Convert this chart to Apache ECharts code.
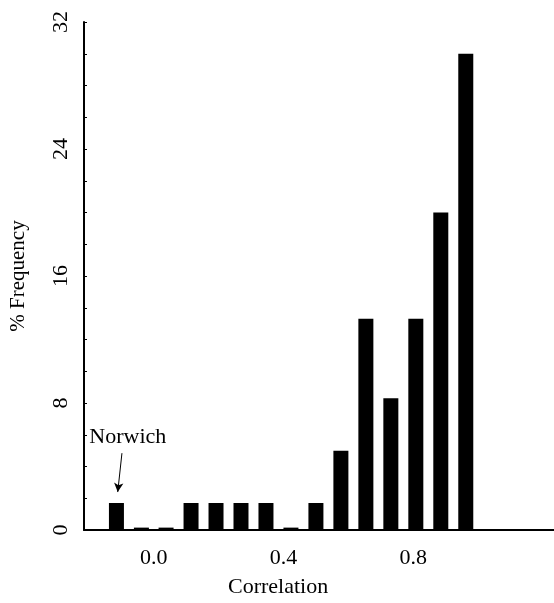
<!DOCTYPE html>
<html>
<head>
<meta charset="utf-8">
<script src="https://cdn.jsdelivr.net/npm/echarts@6/dist/echarts.min.js"></script>
<style>
  html, body { margin: 0; padding: 0; background: #fff; }
  #chart { width: 554px; height: 603px; }
</style>
</head>
<body>
<div id="chart"></div>
<script>
// bin centres (correlation) and % frequency per bin
const binCentres = [-0.115, -0.038, 0.038, 0.115, 0.192, 0.269, 0.346, 0.423, 0.5, 0.577, 0.654, 0.731, 0.808, 0.885, 0.962];
const frequency = [1.7, 0.15, 0.15, 1.7, 1.7, 1.7, 1.7, 0.15, 1.7, 5.0, 13.3, 8.3, 13.3, 20.0, 30.0];
const xTickValues = [0, 0.4, 0.8];
const yLabelValues = [0, 8, 16, 24, 32];
// Norwich note: text spot and arrow from/to, in data units
const noteText = [-0.08, 5.85];
const arrowFrom = [-0.098, 4.84];
const arrowTo = [-0.111, 2.39];

const font = "'Liberation Serif', 'DejaVu Serif', serif";
const chart = echarts.init(document.getElementById("chart"));

chart.setOption({
  animation: false,
  grid: { left: 83, right: 0, top: 22, bottom: 73 },
  xAxis: {
    type: "value",
    min: -0.215,
    max: 1.234,
    axisLine: { onZero: false, lineStyle: { color: "#000", width: 2 } },
    axisTick: { show: false },
    splitLine: { show: false },
    axisLabel: {
      customValues: xTickValues,
      formatter: v => v.toFixed(1),
      color: "#000",
      fontFamily: font,
      fontSize: 22,
      margin: 17
    }
  },
  yAxis: {
    type: "value",
    min: 0,
    max: 32,
    interval: 2,
    name: "% Frequency",
    nameLocation: "middle",
    nameRotate: 90,
    nameGap: 55,
    nameTextStyle: { color: "#000", fontFamily: font, fontSize: 21 },
    axisLine: { show: true, onZero: false, lineStyle: { color: "#000", width: 2 } },
    axisTick: { show: true, inside: true, length: 3, lineStyle: { color: "#000" } },
    splitLine: { show: false },
    axisLabel: {
      rotate: 90,
      formatter: v => (yLabelValues.indexOf(v) >= 0 ? String(v) : ""),
      color: "#000",
      fontFamily: font,
      fontSize: 22,
      margin: 12
    }
  },
  graphic: [
    {
      type: "text",
      left: 283 - 55,
      top: 576,
      style: { text: "Correlation", fill: "#000", font: "22px " + font }
    }
  ],
  series: [
    {
      type: "bar",
      barWidth: 15,
      itemStyle: { color: "#000" },
      data: binCentres.map((c, i) => [c, frequency[i]]),
      markLine: {
        silent: true,
        symbol: ["none", "arrow"],
        symbolSize: [7, 9],
        label: { show: false },
        lineStyle: { color: "#000", width: 1, type: "solid" },
        data: [[{ coord: arrowFrom }, { coord: arrowTo }]]
      },
      markPoint: {
        silent: true,
        symbol: "circle",
        symbolSize: 0,
        label: {
          show: true,
          position: "inside",
          formatter: "Norwich",
          color: "#000",
          fontFamily: font,
          fontSize: 22
        },
        data: [{ coord: noteText }]
      }
    }
  ]
});
</script>
</body>
</html>
